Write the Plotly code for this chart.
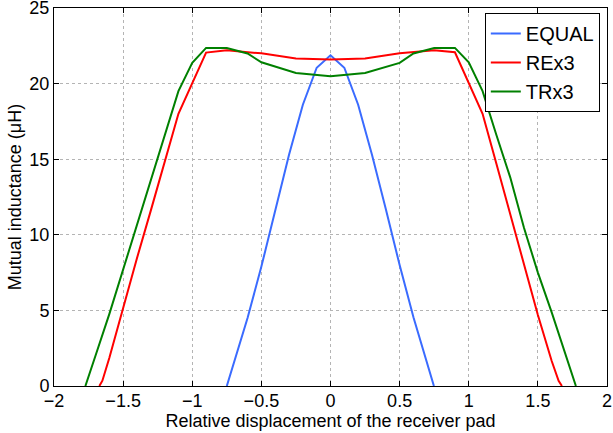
import plotly.graph_objects as go

# ---- data ----
equal_x = [-0.75, -0.7, -0.6, -0.5, -0.4, -0.3, -0.2, -0.1, 0.0, 0.1, 0.2, 0.3, 0.4, 0.5, 0.6, 0.7, 0.748]
equal_y = [0.0, 1.5, 4.5, 7.9, 11.6, 15.3, 18.6, 21.05, 21.87, 21.05, 18.6, 15.3, 11.7, 8.0, 4.55, 1.5, 0.0]

rex3_x = [-1.672, -1.65, -1.6, -1.5, -1.4, -1.3, -1.2, -1.1, -0.9, -0.75, -0.5, -0.25, 0.0,
          0.25, 0.5, 0.75, 0.9, 1.1, 1.2, 1.3, 1.4, 1.5, 1.6, 1.65, 1.674]
rex3_y = [0.0, 0.35, 1.85, 5.2, 8.45, 11.6, 14.8, 18.0, 22.05, 22.2, 22.0, 21.66, 21.6,
          21.66, 22.0, 22.2, 22.07, 18.0, 14.7, 11.4, 8.15, 4.7, 1.65, 0.35, 0.0]

trx3_x = [-1.773, -1.75, -1.7, -1.6, -1.5, -1.4, -1.3, -1.2, -1.1, -1.0, -0.9, -0.75, -0.6, -0.5,
          -0.25, 0.0, 0.25, 0.5, 0.6, 0.75, 0.9, 1.0, 1.1, 1.2, 1.3, 1.4, 1.5, 1.6, 1.7, 1.74, 1.775]
trx3_y = [0.0, 0.6, 2.0, 4.75, 7.7, 10.7, 13.7, 16.7, 19.5, 21.37, 22.36, 22.36, 21.99, 21.41,
          20.7, 20.48, 20.7, 21.37, 21.99, 22.36, 22.36, 21.41, 19.5, 16.6, 13.8, 10.45, 7.5, 4.87, 2.1, 1.06, 0.0]

series_names = ["EQUAL", "REx3", "TRx3"]
series_colors = ["#3A6BFF", "#FF0000", "#008000"]

x_title = "Relative displacement of the receiver pad"
y_title = "Mutual inductance (μH)"

FONT = "Liberation Sans, Arial, Helvetica, sans-serif"

fig = go.Figure()
for name, xs, ys, col in zip(series_names, [equal_x, rex3_x, trx3_x], [equal_y, rex3_y, trx3_y], series_colors):
    fig.add_trace(go.Scatter(x=xs, y=ys, mode="lines", name=name,
                             line=dict(color=col, width=2)))

axis_common = dict(
    showline=True, linecolor="black", linewidth=1, mirror="ticks",
    ticks="inside", ticklen=5, tickwidth=1, tickcolor="black",
    showgrid=True, gridcolor="#b4b4b4", griddash="dot", gridwidth=1,
    zeroline=False, automargin=False, ticklabeloverflow="allow",
    tickfont=dict(family=FONT, size=18, color="black"),
)

fig.update_xaxes(range=[-2, 2], dtick=0.5, tick0=-2, ticklabelstandoff=-2,
                 title=dict(text=x_title, font=dict(family=FONT, size=18, color="black"), standoff=0),
                 **axis_common)
fig.update_yaxes(range=[0, 25], dtick=5, tick0=0,
                 title=dict(text=y_title, font=dict(family=FONT, size=18, color="black"), standoff=3),
                 **axis_common)

fig.update_layout(
    width=613, height=433,
    margin=dict(l=54, r=6, t=8, b=47, autoexpand=False),
    paper_bgcolor="white", plot_bgcolor="white",
    font=dict(family=FONT, size=18, color="black"),
    legend=dict(x=0.987, y=0.987, xanchor="right", yanchor="top",
                bgcolor="white", bordercolor="black", borderwidth=1,
                font=dict(family=FONT, size=20, color="black"),
                tracegroupgap=0, itemwidth=30),
    showlegend=True,
)

fig.write_html("out.html", config={"displayModeBar": False},
               post_script="document.body.style.margin='0';document.body.style.padding='0';")
